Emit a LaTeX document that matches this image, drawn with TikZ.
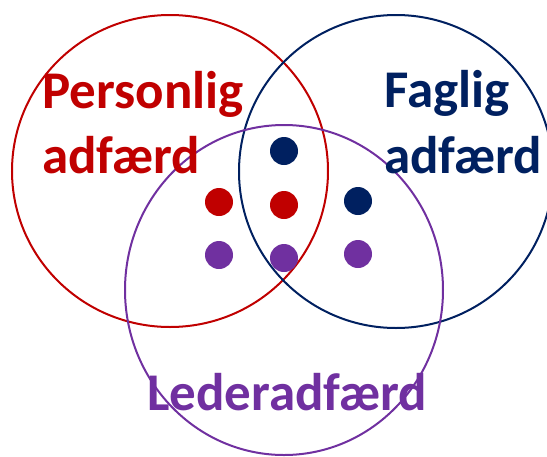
\documentclass[tikz,border=0pt]{standalone}
\usepackage{fontspec}
\setmainfont{Carlito}
\definecolor{cred}{HTML}{C00000}
\definecolor{cnavy}{HTML}{002060}
\definecolor{cpurple}{HTML}{7030A0}
\begin{document}
\begin{tikzpicture}[x=1pt,y=-1pt,
  ring/.style={line width=2pt},
  lbl/.style={anchor=base west,inner sep=0pt,font=\fontsize{53}{60}\selectfont\bfseries},
  dot/.style={circle,fill=#1,inner sep=0pt,minimum size=28pt}]
\useasboundingbox (0,0) rectangle (547,456);
\draw[ring,cred] (170,171) ellipse [x radius=158,y radius=156];
\draw[ring,cnavy] (396,171.5) ellipse [x radius=157,y radius=156.5];
\draw[ring,cpurple] (284,290) ellipse [x radius=159,y radius=165];
\node[lbl,text=cred] (p1) at (42,108) {Personlig};
\node[lbl,text=cred] (p2) at (42,173) {adfærd};
\node[lbl,text=cnavy] (f1) at (384,107) {Faglig};
\node[lbl,text=cnavy] (f2) at (384,173) {adfærd};
\node[lbl,text=cpurple] (l1) at (147,410) {Lederadfærd};
\node[dot=cnavy] (d1) at (284,151) {};
\node[dot=cred] (d2) at (219,202) {};
\node[dot=cred] (d3) at (284,205) {};
\node[dot=cnavy] (d4) at (358,201) {};
\node[dot=cpurple] (d5) at (219,255) {};
\node[dot=cpurple] (d6) at (284,258) {};
\node[dot=cpurple] (d7) at (358,254) {};
\end{tikzpicture}
\end{document}
